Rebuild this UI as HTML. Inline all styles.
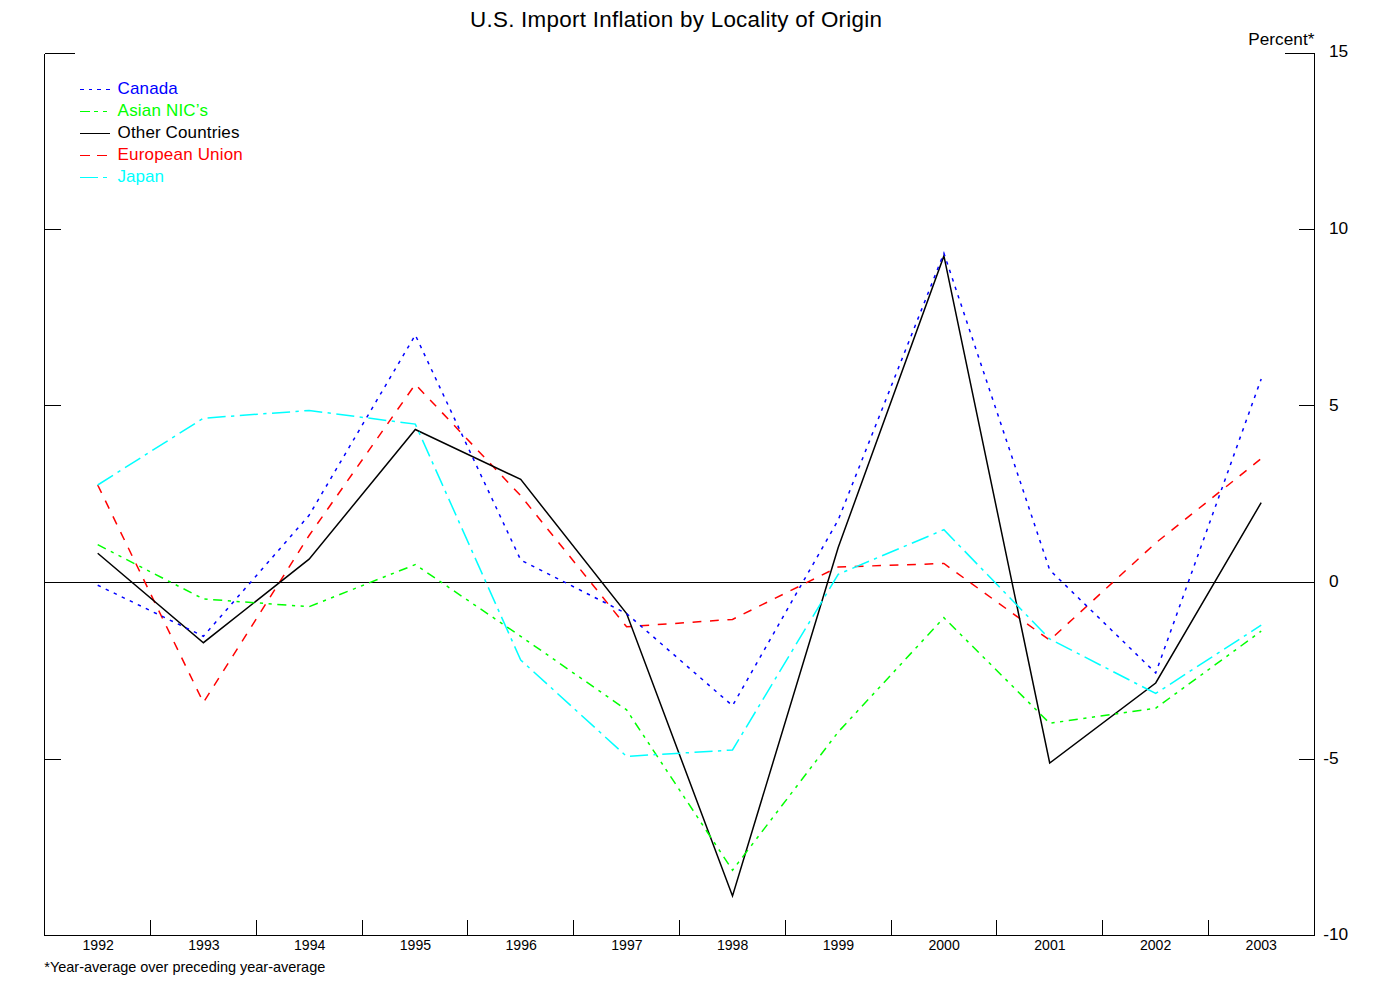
<!DOCTYPE html>
<html><head><meta charset="utf-8"><title>U.S. Import Inflation by Locality of Origin</title>
<style>
html,body{margin:0;padding:0;background:#fff;}
body{width:1374px;height:1002px;overflow:hidden;font-family:"Liberation Sans",sans-serif;}
svg{display:block;}
text{font-family:"Liberation Sans",sans-serif;}
</style></head><body>
<svg width="1374" height="1002" viewBox="0 0 1374 1002">
<rect width="1374" height="1002" fill="#fff"/>
<text id="title" x="470" y="26.9" font-size="22.4" textLength="412" lengthAdjust="spacing" fill="#000">U.S. Import Inflation by Locality of Origin</text>
<text id="pct" x="1248.2" y="45.4" font-size="17.2" textLength="66.2" lengthAdjust="spacing" fill="#000">Percent*</text>
<g stroke="#000" stroke-width="1" fill="none" shape-rendering="crispEdges">
<path d="M44.5 53.5V935.5H1314.5V53.5"/>
<path d="M44.5 53.5h30M1314.5 53.5h-30"/>
<path d="M44.5 229.5h16M1314.5 229.5h-16"/>
<path d="M44.5 405.5h16M1314.5 405.5h-16"/>
<path d="M44.5 582.5H1314.5"/>
<path d="M44.5 759.5h16M1314.5 759.5h-16"/>
<path d="M150.5 935.5v-16"/>
<path d="M256.5 935.5v-16"/>
<path d="M362.5 935.5v-16"/>
<path d="M467.5 935.5v-16"/>
<path d="M573.5 935.5v-16"/>
<path d="M679.5 935.5v-16"/>
<path d="M785.5 935.5v-16"/>
<path d="M891.5 935.5v-16"/>
<path d="M996.5 935.5v-16"/>
<path d="M1102.5 935.5v-16"/>
<path d="M1208.5 935.5v-16"/>
</g>
<text x="1329.0" y="57.4" font-size="17.3" fill="#000">15</text>
<text x="1329.0" y="234.0" font-size="17.3" fill="#000">10</text>
<text x="1329.0" y="410.6" font-size="17.3" fill="#000">5</text>
<text x="1329.0" y="587.4" font-size="17.3" fill="#000">0</text>
<text x="1323.2" y="764.4" font-size="17.3" fill="#000">-5</text>
<text x="1323.2" y="940.0" font-size="17.3" fill="#000">-10</text>
<text x="98.2" y="949.6" font-size="14.1" text-anchor="middle" fill="#000">1992</text>
<text x="203.9" y="949.6" font-size="14.1" text-anchor="middle" fill="#000">1993</text>
<text x="309.7" y="949.6" font-size="14.1" text-anchor="middle" fill="#000">1994</text>
<text x="415.4" y="949.6" font-size="14.1" text-anchor="middle" fill="#000">1995</text>
<text x="521.2" y="949.6" font-size="14.1" text-anchor="middle" fill="#000">1996</text>
<text x="626.9" y="949.6" font-size="14.1" text-anchor="middle" fill="#000">1997</text>
<text x="732.6" y="949.6" font-size="14.1" text-anchor="middle" fill="#000">1998</text>
<text x="838.4" y="949.6" font-size="14.1" text-anchor="middle" fill="#000">1999</text>
<text x="944.1" y="949.6" font-size="14.1" text-anchor="middle" fill="#000">2000</text>
<text x="1049.9" y="949.6" font-size="14.1" text-anchor="middle" fill="#000">2001</text>
<text x="1155.6" y="949.6" font-size="14.1" text-anchor="middle" fill="#000">2002</text>
<text x="1261.3" y="949.6" font-size="14.1" text-anchor="middle" fill="#000">2003</text>
<text id="foot" x="44.3" y="972.0" font-size="14.5" textLength="281" lengthAdjust="spacing" fill="#000">*Year-average over preceding year-average</text>
<g fill="none" stroke-width="1.5" stroke-linejoin="miter">
<polyline points="97.7,485 203.4,702.5 309.1,535.5 415.3,384.3 520.7,495.7 626.6,626.8 732.5,619.4 838.2,567 943.9,563.5 1049.7,640.2 1155.7,543 1261.2,458.6" stroke="#ff0000" stroke-dasharray="8.8 8.653"/>
<polyline points="97.7,553.3 203.4,642.7 309.1,559.2 415.3,429.5 520.7,479.4 626.6,613.6 732.5,896 838.2,547.5 943.9,255.9 1049.7,763.0 1155.7,683 1261.2,502.6" stroke="#000"/>
<polyline points="97.7,544.7 203.4,599 309.1,606.7 415.3,564.6 520.7,636.3 626.6,709.9 732.5,870.2 838.2,732 943.9,617.7 1049.7,723.3 1155.7,708.2 1261.2,631.2" stroke="#00ff00" stroke-dasharray="9.1 5.6 3.2 5.5 3.2 5.55"/>
<polyline points="97.7,585.2 203.4,636.3 309.1,515.3 415.3,335.0 520.7,560 626.6,613.6 732.5,705.7 838.2,520 943.9,253.2 1049.7,570 1155.7,673 1261.2,378.9" stroke="#0000ff" stroke-dasharray="3.4 5.5"/>
<polyline points="97.7,485 203.4,418.2 309.1,410.5 415.3,424.1 520.7,660 626.6,756.4 732.5,750 838.2,574.3 943.9,529.7 1049.7,639 1155.7,693.5 1261.2,625.1" stroke="#00ffff" stroke-dasharray="18.1 5.4 3.3 5.507"/>
</g>
<g fill="none" stroke-width="1" shape-rendering="crispEdges">
<path d="M80 89.5H110.2" stroke="#0000ff" stroke-dasharray="3.67 5"/>
<path d="M80 111.5H110.2" stroke="#00ff00" stroke-dasharray="10 4.4 3.8 4.9 3.8 4.9"/>
<path d="M80 133.5H110.2" stroke="#000"/>
<path d="M80 155.5H110.2" stroke="#ff0000" stroke-dasharray="9.9 7.4"/>
<path d="M80 177.5H110.2" stroke="#00ffff" stroke-dasharray="18.4 4.8 3.9 4.8"/>
</g>
<text class="lg" x="117.6" y="93.8" font-size="17" textLength="60.2" lengthAdjust="spacing" fill="#0000ff">Canada</text>
<text class="lg" x="117.6" y="115.8" font-size="17" textLength="90.4" lengthAdjust="spacing" fill="#00ff00">Asian NIC’s</text>
<text class="lg" x="117.6" y="137.8" font-size="17" textLength="121.8" lengthAdjust="spacing" fill="#000">Other Countries</text>
<text class="lg" x="117.6" y="159.8" font-size="17" textLength="125.2" lengthAdjust="spacing" fill="#ff0000">European Union</text>
<text class="lg" x="117.6" y="181.8" font-size="17" textLength="46.3" lengthAdjust="spacing" fill="#00ffff">Japan</text>
</svg>
</body></html>
